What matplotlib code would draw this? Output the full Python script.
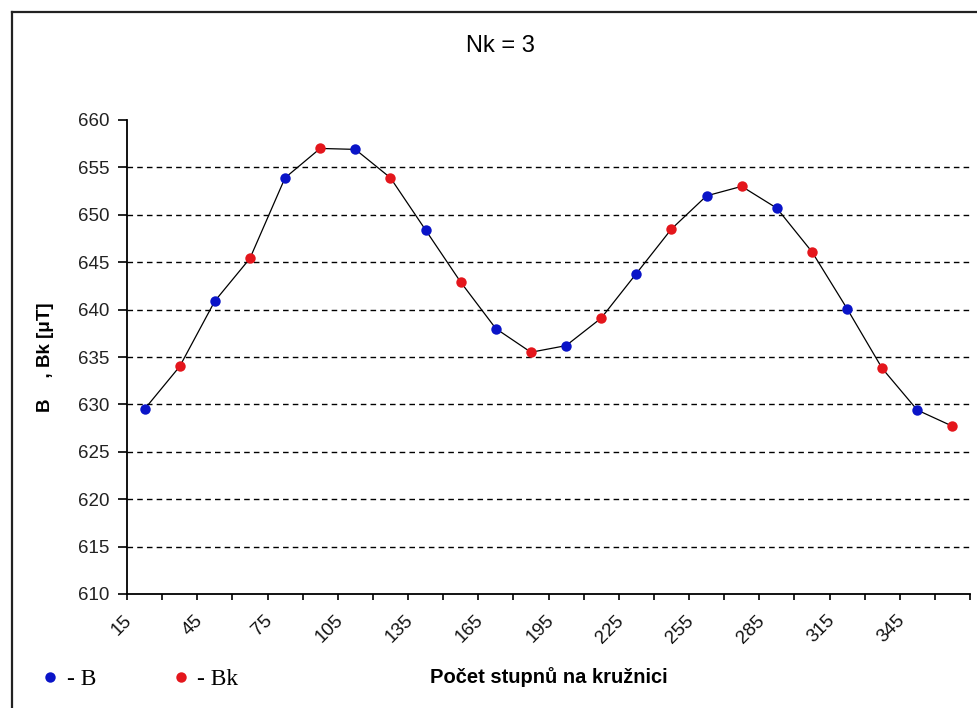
import numpy as np
import matplotlib
matplotlib.use("Agg")
import matplotlib.pyplot as plt
from matplotlib.lines import Line2D
from matplotlib.transforms import ScaledTranslation

# ---- data ----
angles = [15, 30, 45, 60, 75, 90, 105, 120, 135, 150, 165, 180,
          195, 210, 225, 240, 255, 270, 285, 300, 315, 330, 345, 360]
B_angles = angles[0::2]
Bk_angles = angles[1::2]
B_values = [629.5, 640.9, 653.9, 656.9, 648.4, 638.0,
            636.2, 643.8, 652.0, 650.7, 640.1, 629.4]
Bk_values = [634.0, 645.4, 657.0, 653.9, 642.9, 635.5,
             639.1, 648.5, 653.0, 646.1, 633.8, 627.7]
x_tick_labels = ["15", "45", "75", "105", "135", "165", "195",
                 "225", "255", "285", "315", "345"]
y_ticks = [610, 615, 620, 625, 630, 635, 640, 645, 650, 655, 660]

title = "Nk = 3"
x_label = "Počet stupnů na kružnici"
y_label = "B    , Bk [μT]"
legend_labels = ["- B", "- Bk"]

blue = "#0a14c8"
red = "#e4161c"

plt.rcParams["font.family"] = ["Liberation Sans", "DejaVu Sans"]

W, H = 977, 708
fig = plt.figure(figsize=(W / 100, H / 100), dpi=100)
fig.patch.set_facecolor("white")

ax_l, ax_r, ax_t, ax_b = 127, 970, 120, 594
ax = fig.add_axes([ax_l / W, 1 - ax_b / H, (ax_r - ax_l) / W, (ax_b - ax_t) / H])

pos = {a: i for i, a in enumerate(angles)}
val = {}
for a, v in zip(B_angles, B_values):
    val[a] = v
for a, v in zip(Bk_angles, Bk_values):
    val[a] = v
xs = [pos[a] for a in angles]
ys = [val[a] for a in angles]

# grid lines (inner ticks only)
for yv in y_ticks[1:-1]:
    ax.axhline(yv, color="black", lw=1.0, dashes=(4, 3), zorder=1)

ax.plot(xs, ys, color="black", lw=0.9, zorder=2)
ax.plot([pos[a] for a in B_angles], B_values, "o", color=blue, ms=7.5, mew=0, zorder=3)
ax.plot([pos[a] for a in Bk_angles], Bk_values, "o", color=red, ms=7.5, mew=0, zorder=3)

ax.set_xlim(-0.5, len(angles) - 0.5)
ax.set_ylim(y_ticks[0], y_ticks[-1])
ax.set_yticks(y_ticks)
ax.set_yticklabels([str(t) for t in y_ticks], fontsize=13.5, color="#222222")
ax.tick_params(axis="y", direction="out", length=6.5, width=1.2, pad=6)

ax.set_xticks(xs[0::2])
ax.set_xticklabels(x_tick_labels, rotation=45, ha="right", va="top",
                   fontsize=13.5, color="#111111")
ax.tick_params(axis="x", which="major", length=0, pad=13)
ax.set_xticks(np.arange(-0.5, len(angles), 1.0), minor=True)
ax.tick_params(axis="x", which="minor", direction="out", length=4, width=1.2)
off = ScaledTranslation(-0.09, 0, fig.dpi_scale_trans)
for lbl in ax.get_xticklabels():
    lbl.set_transform(lbl.get_transform() + off)

for s in ["top", "right"]:
    ax.spines[s].set_visible(False)
for s in ["left", "bottom"]:
    ax.spines[s].set_linewidth(1.3)
    ax.spines[s].set_color("black")

ax.set_xlabel(x_label, fontsize=14.5, fontweight="bold", labelpad=0)
ax.xaxis.set_label_coords(0.5, (ax_b - 677) / (ax_b - ax_t), transform=ax.transAxes)
ax.xaxis.label.set_va("center")
ax.set_ylabel(y_label, fontsize=13.5, fontweight="bold")
ax.yaxis.set_label_coords((46 - ax_l) / (ax_r - ax_l), (ax_b - 357) / (ax_b - ax_t))
ax.yaxis.label.set_va("center")

fig.text(500 / W, 1 - 46 / H, title, fontsize=17, ha="center", va="center")

# legend
handles = [Line2D([], [], ls="none", marker="o", color=blue, ms=7.5, mew=0),
           Line2D([], [], ls="none", marker="o", color=red, ms=7.5, mew=0)]
fig.legend(handles, legend_labels, loc="center left",
           bbox_to_anchor=(17 / W, 1 - 679 / H), ncol=2, frameon=False,
           prop={"family": "Liberation Serif", "size": 17},
           handlelength=1.0, handletextpad=0.2, columnspacing=3.1)

# chart-area border (left and top edges visible)
fig.add_artist(Line2D([12 / W, 12 / W], [0, 1 - 12 / H], transform=fig.transFigure,
                      color="#222222", lw=1.6))
fig.add_artist(Line2D([12 / W, 1], [1 - 12 / H, 1 - 12 / H], transform=fig.transFigure,
                      color="#222222", lw=1.6))

fig.savefig("out.png", dpi=100, facecolor="white")
